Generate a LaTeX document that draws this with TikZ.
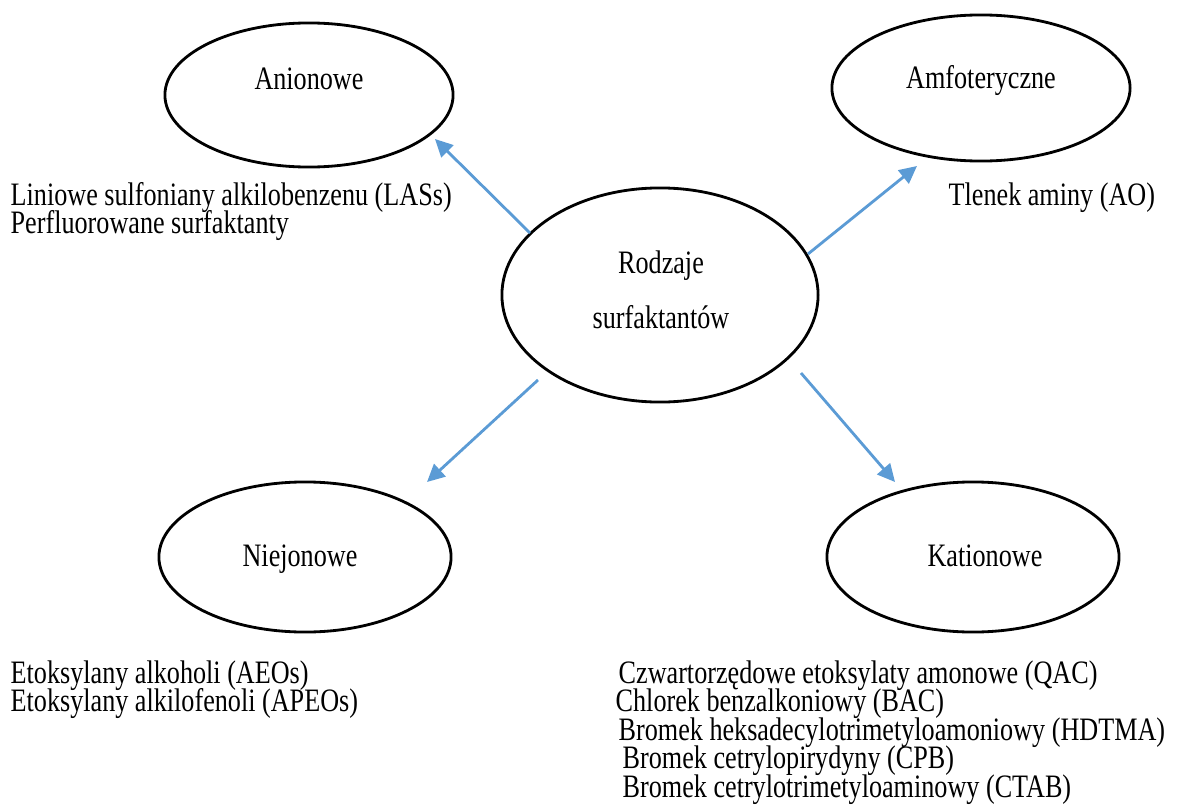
\documentclass[tikz,border=0pt]{standalone}
\usepackage{fontspec}
\setmainfont{Liberation Serif}[FakeStretch=0.8]
\usepackage{xcolor}
\usepackage{tikz}
\usetikzlibrary{shapes.geometric,arrows.meta,positioning}
\definecolor{arrowblue}{RGB}{91,155,213}
\tikzset{
  typebox/.style={draw=black, line width=0.8pt, ellipse, inner sep=0pt},
  typearrow/.style={draw=arrowblue, line width=0.8pt, -{Triangle[length=5pt,width=4.8pt]}},
  txt/.style={anchor=base west, inner sep=0pt, font=\fontsize{9.3}{11}\selectfont},
  mid/.style={anchor=base, inner sep=0pt, font=\fontsize{9.3}{11}\selectfont}
}
\begin{document}
\begin{tikzpicture}[x=0.01cm, y=-0.01cm]
        \useasboundingbox (0,0) rectangle (1181,812);
        % ellipses
        \node[typebox, minimum width=3.16cm, minimum height=2.14cm] (rodzaje) at (660,295) {};
        \node[typebox, minimum width=2.88cm, minimum height=1.44cm] (anion) at (309,95) {};
        \node[typebox, minimum width=2.98cm, minimum height=1.46cm] (amfo) at (981,88) {};
        \node[typebox, minimum width=2.92cm, minimum height=1.50cm] (niejon) at (305,557) {};
        \node[typebox, minimum width=2.92cm, minimum height=1.50cm] (kation) at (973,557) {};

        \node[mid] (rodzajeA) at (661,273) {Rodzaje};
        \node[mid] (rodzajeB) at (661,328) {surfaktantów};
        \node[mid] (anionT) at (309,90) {Anionowe};
        \node[mid] (amfoT) at (981,88) {Amfoteryczne};
        \node[mid] (niejonT) at (300,566) {Niejonowe};
        \node[mid] (kationT) at (985,566) {Kationowe};

        % arrow ends
        \coordinate (a1s) at (530,233); \coordinate (a1e) at (435,139);
        \coordinate (a2s) at (808,254); \coordinate (a2e) at (917,166);
        \coordinate (a3s) at (538,380); \coordinate (a3e) at (427,482);
        \coordinate (a4s) at (801,373); \coordinate (a4e) at (895,482);
        \draw[typearrow] (a1s) -- (a1e);
        \draw[typearrow] (a2s) -- (a2e);
        \draw[typearrow] (a3s) -- (a3e);
        \draw[typearrow] (a4s) -- (a4e);

        % examples
        \node[txt] (las) at (10,205) {Liniowe sulfoniany alkilobenzenu (LASs)};
        \node[txt] (pfas) at (10,233) {Perfluorowane surfaktanty};
        \node[txt] (ao) at (948,205) {Tlenek aminy (AO)};
        \node[txt] (aeo) at (10,683) {Etoksylany alkoholi (AEOs)};
        \node[txt] (apeo) at (10,711) {Etoksylany alkilofenoli (APEOs)};
        \node[txt] (qac) at (618,683) {Czwartorzędowe etoksylaty amonowe (QAC)};
        \node[txt] (bac) at (615,711) {Chlorek benzalkoniowy (BAC)};
        \node[txt] (hdtma) at (618,740) {Bromek heksadecylotrimetyloamoniowy (HDTMA)};
        \node[txt] (cpb) at (622,768) {Bromek cetrylopirydyny (CPB)};
        \node[txt] (ctab) at (622,797) {Bromek cetrylotrimetyloaminowy (CTAB)};
    \end{tikzpicture}
\end{document}
